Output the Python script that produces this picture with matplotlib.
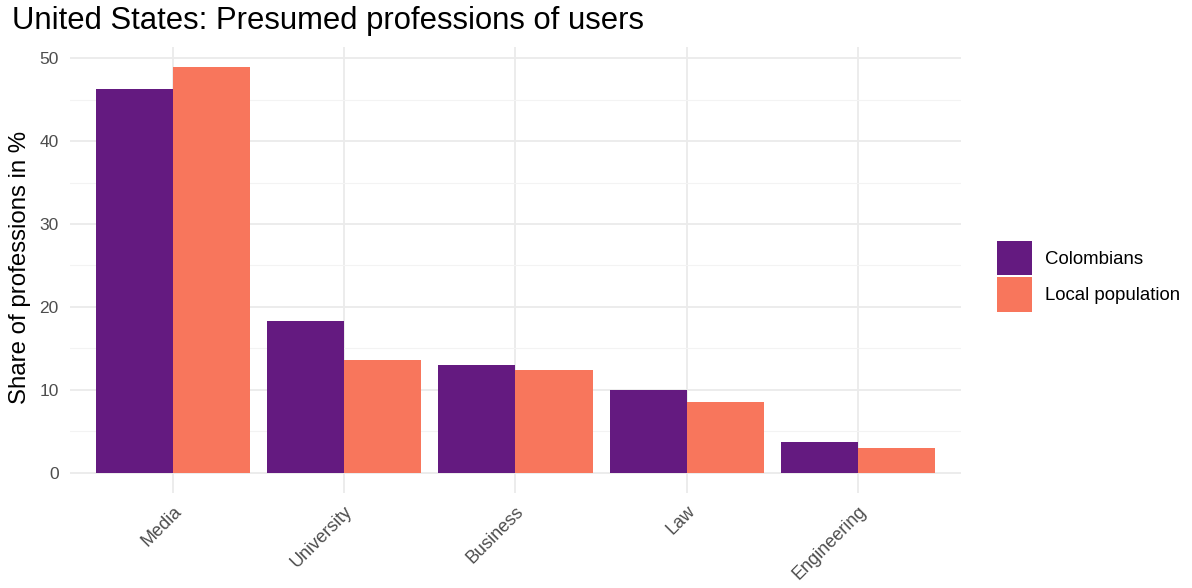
import numpy as np
import matplotlib.pyplot as plt
from matplotlib.patches import Patch

plt.rcParams['font.family'] = ['Liberation Sans', 'DejaVu Sans']

# datos
categorias = ["Media", "University", "Business", "Law", "Engineering"]
colombianos = [46.3, 18.3, 13.0, 10.0, 3.7]
poblacion_local = [48.9, 13.6, 12.4, 8.5, 3.0]
grupos = ["Colombians", "Local population"]
colores = ["#641A80", "#F8765C"]

fig = plt.figure(figsize=(11.92, 5.88), dpi=100)
ax = fig.add_axes([0.0587, 0.1616, 0.7475, 0.7584])

x = np.arange(1, len(categorias) + 1)
ancho = 0.45
ax.bar(x - ancho / 2, colombianos, width=ancho, color=colores[0], zorder=3)
ax.bar(x + ancho / 2, poblacion_local, width=ancho, color=colores[1], zorder=3)

ymax = max(max(colombianos), max(poblacion_local))
ax.set_xlim(0.4, len(categorias) + 0.6)
ax.set_ylim(-0.05 * ymax, 1.05 * ymax)

ax.set_yticks([0, 10, 20, 30, 40, 50])
ax.set_yticks([5, 15, 25, 35, 45], minor=True)
ax.set_xticks(x)
ax.set_xticklabels(categorias, rotation=45, ha='right', va='top',
                   rotation_mode='anchor')

ax.grid(True, which='major', color='#EBEBEB', linewidth=1.3, zorder=0)
ax.grid(True, which='minor', axis='y', color='#F3F3F3', linewidth=0.8, zorder=0)
for s in ax.spines.values():
    s.set_visible(False)
ax.tick_params(which='both', length=0)
ax.tick_params(axis='y', labelsize=12.5, labelcolor='#4D4D4D', pad=8)
ax.tick_params(axis='x', labelsize=13, labelcolor='#4D4D4D', pad=7)

ax.set_ylabel("Share of professions in %", fontsize=17.3)
ax.yaxis.set_label_coords(-0.044, 0.505)
fig.text(0.010, 0.965, "United States: Presumed professions of users",
         fontsize=22.3, ha='left', va='center')

handles = [Patch(facecolor=c, edgecolor='none') for c in colores]
fig.legend(handles, grupos, loc='center left', bbox_to_anchor=(0.829, 0.530),
           frameon=False, fontsize=13.4, handlelength=1.83, handleheight=2.45,
           labelspacing=0.12, handletextpad=0.7, borderpad=0)

fig.savefig("out.png", dpi=100)
